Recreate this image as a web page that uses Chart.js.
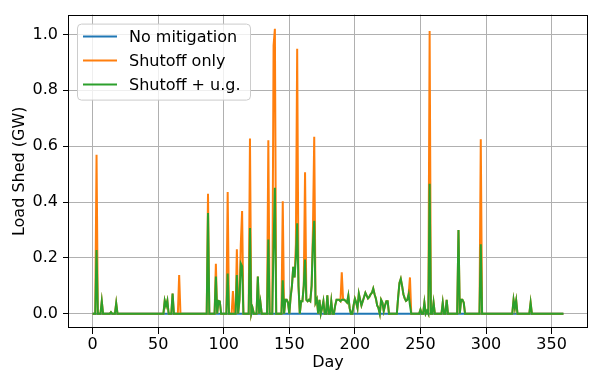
<!DOCTYPE html>
<html>
<head>
    <meta charset="UTF-8">
    <title>Load Shed</title>
    <script src="https://cdn.jsdelivr.net/npm/chart.js"></script>
    <style>
        html, body { margin: 0; padding: 0; background: #fff; }
    </style>
</head>
<body>
    <canvas id="myChart" width="595" height="375"></canvas>

    <script>
        // days 0..359, load shed in GW
        const dayCount = 360;
        const xTicks = [0, 50, 100, 150, 200, 250, 300, 350];
        const yTicks = [0, 0.2, 0.4, 0.6, 0.8, 1.0];
        const seriesNames = ['No mitigation', 'Shutoff only', 'Shutoff + u.g.'];
        const seriesColors = ['#1f77b4', '#ff7f0e', '#2ca02c'];

        // [day, GW] for days with load shed; every other day is 0
        const noMitigation = [];
        const shutoffOnly = [
            [3, 0.569], [7, 0.045], [14, 0.006], [18, 0.038],
            [55, 0.047], [56, 0.028], [57, 0.047], [61, 0.072], [66, 0.139],
            [88, 0.43], [94, 0.179], [96, 0.046], [97, 0.044],
            [103, 0.436], [107, 0.081], [110, 0.231], [112, 0.05], [113, 0.25], [114, 0.368],
            [120, 0.627], [122, 0.02], [126, 0.133], [128, 0.04],
            [134, 0.621], [138, 0.96], [139, 1.02],
            [145, 0.403], [147, 0.05], [148, 0.05], [149, 0.04],
            [151, 0.06], [152, 0.1], [153, 0.168], [154, 0.13], [155, 0.25], [156, 0.949], [157, 0.1],
            [159, 0.045], [160, 0.045], [161, 0.1], [162, 0.507], [163, 0.05], [164, 0.045], [165, 0.05],
            [166, 0.045], [167, 0.1], [168, 0.3], [169, 0.634],
            [170, 0.04], [171, 0.052], [173, 0.05], [175, 0.02], [176, 0.045], [179, 0.066], [182, 0.045],
            [185, 0.03], [186, 0.05], [187, 0.05], [188, 0.05], [189, 0.045], [190, 0.148], [191, 0.05],
            [192, 0.05], [193, 0.045], [194, 0.04], [195, 0.065], [196, 0.02],
            [199, 0.03], [200, 0.054], [201, 0.04], [202, 0.02], [203, 0.072], [204, 0.05], [205, 0.03],
            [206, 0.045], [207, 0.06], [208, 0.075], [209, 0.065], [210, 0.055], [211, 0.06], [212, 0.07],
            [213, 0.075], [214, 0.09], [215, 0.07], [216, 0.055], [217, 0.03], [218, 0.02],
            [220, 0.05], [221, 0.04], [222, 0.01], [223, 0.03], [224, 0.045], [225, 0.045],
            [233, 0.06], [234, 0.11], [235, 0.125], [236, 0.1], [237, 0.07], [238, 0.055], [239, 0.046],
            [240, 0.05], [241, 0.07], [242, 0.13],
            [250, 0.015], [253, 0.04], [255, 0.01], [257, 1.012], [260, 0.04], [267, 0.04], [270, 0.05],
            [279, 0.3], [281, 0.05], [282, 0.05], [283, 0.04],
            [296, 0.625], [321, 0.05], [322, 0.02], [323, 0.048], [334, 0.04]
        ];
        const shutoffUg = [
            [3, 0.228], [7, 0.045], [14, 0.006], [18, 0.038],
            [55, 0.047], [56, 0.028], [57, 0.047], [61, 0.072],
            [88, 0.361], [94, 0.133], [96, 0.046], [97, 0.044],
            [103, 0.144], [110, 0.139], [112, 0.05], [113, 0.18], [114, 0.17],
            [120, 0.307], [122, 0.02], [126, 0.133], [128, 0.04],
            [134, 0.266], [138, 0.25], [139, 0.451],
            [145, 0.12], [147, 0.05], [148, 0.05], [149, 0.04],
            [151, 0.06], [152, 0.1], [153, 0.168], [154, 0.13], [155, 0.2], [156, 0.324], [157, 0.1],
            [159, 0.045], [160, 0.045], [161, 0.1], [162, 0.194], [163, 0.05], [164, 0.045], [165, 0.05],
            [166, 0.045], [167, 0.1], [168, 0.25], [169, 0.333],
            [170, 0.04], [171, 0.052], [173, 0.05], [175, 0.02], [176, 0.045], [179, 0.066], [182, 0.045],
            [185, 0.03], [186, 0.05], [187, 0.05], [188, 0.05], [189, 0.045], [190, 0.05], [191, 0.05],
            [192, 0.05], [193, 0.045], [194, 0.04], [195, 0.065], [196, 0.02],
            [199, 0.03], [200, 0.054], [201, 0.04], [202, 0.02], [203, 0.072], [204, 0.05], [205, 0.03],
            [206, 0.045], [207, 0.06], [208, 0.075], [209, 0.065], [210, 0.055], [211, 0.06], [212, 0.07],
            [213, 0.075], [214, 0.09], [215, 0.07], [216, 0.055], [217, 0.03], [218, 0.02],
            [220, 0.05], [221, 0.04], [222, 0.01], [223, 0.03], [224, 0.045], [225, 0.045],
            [233, 0.06], [234, 0.11], [235, 0.125], [236, 0.1], [237, 0.07], [238, 0.055], [239, 0.046],
            [240, 0.05], [241, 0.07], [242, 0.03],
            [250, 0.015], [253, 0.04], [255, 0.01], [257, 0.465], [260, 0.04], [267, 0.04], [270, 0.05],
            [279, 0.3], [281, 0.05], [282, 0.05], [283, 0.04],
            [296, 0.249], [321, 0.05], [322, 0.02], [323, 0.048], [334, 0.04]
        ];

        // zero-filled daily series
        function dailySeries(pairs) {
            const vals = new Array(dayCount).fill(0);
            pairs.forEach(([d, v]) => { vals[d] = v; });
            return vals.map((v, d) => ({ x: d, y: v }));
        }

        const font = { family: 'DejaVu Sans', size: 16 };

        // matplotlib style frame + legend inside the axes
        const framePlugin = {
            id: 'frame',
            afterDatasetsDraw(chart) {
                const { ctx, chartArea: a } = chart;
                ctx.save();
                ctx.strokeStyle = '#000';
                ctx.lineWidth = 1;
                ctx.strokeRect(Math.round(a.left) - 0.5, Math.round(a.top) + 0.5,
                    Math.round(a.right - a.left) + 1, Math.round(a.bottom - a.top) - 1);

                const bx = a.left + 8, by = a.top + 9, bw = 173, bh = 76;
                ctx.beginPath();
                ctx.roundRect(bx + 0.5, by + 0.5, bw, bh, 4);
                ctx.fillStyle = 'rgba(255,255,255,0.8)';
                ctx.fill();
                ctx.strokeStyle = '#cccccc';
                ctx.stroke();

                ctx.font = '16px "DejaVu Sans"';
                ctx.textBaseline = 'middle';
                chart.data.datasets.forEach((ds, i) => {
                    const y = by + 13 + i * 24;
                    ctx.beginPath();
                    ctx.moveTo(bx + 6, y);
                    ctx.lineTo(bx + 40, y);
                    ctx.strokeStyle = ds.borderColor;
                    ctx.lineWidth = 2;
                    ctx.stroke();
                    ctx.fillStyle = '#000';
                    ctx.fillText(ds.label, bx + 52, y + 1);
                });
                ctx.restore();
            }
        };

        const ctx = document.getElementById('myChart').getContext('2d');
        const myChart = new Chart(ctx, {
            type: 'line',
            data: {
                datasets: [noMitigation, shutoffOnly, shutoffUg].map((s, i) => ({
                    label: seriesNames[i],
                    data: dailySeries(s),
                    borderColor: seriesColors[i],
                    backgroundColor: seriesColors[i],
                    borderWidth: 2,
                    pointRadius: 0,
                    fill: false,
                    tension: 0,
                    order: 2 - i
                }))
            },
            options: {
                responsive: false,
                animation: false,
                devicePixelRatio: 1,
                layout: { padding: { top: 5, right: 8, left: 0, bottom: 0 } },
                plugins: {
                    legend: { display: false },
                    tooltip: { enabled: false }
                },
                scales: {
                    x: {
                        type: 'linear',
                        min: -18,
                        max: 377,
                        afterBuildTicks: s => { s.ticks = xTicks.map(v => ({ value: v })); },
                        afterFit: s => { s.height = 47; },
                        ticks: { font: font, color: '#000', padding: 1, maxRotation: 0 },
                        grid: { color: '#b0b0b0', lineWidth: 1, tickLength: 6, tickColor: '#000' },
                        border: { display: false },
                        title: { display: true, text: 'Day', font: font, color: '#000', padding: { top: 0, bottom: 3 } }
                    },
                    y: {
                        min: -0.051,
                        max: 1.071,
                        afterBuildTicks: s => { s.ticks = yTicks.map(v => ({ value: v })); },
                        afterFit: s => { s.width = 69; },
                        ticks: { font: font, color: '#000', padding: 5, callback: v => v.toFixed(1) },
                        grid: { color: '#b0b0b0', lineWidth: 1, tickLength: 6, tickColor: '#000' },
                        border: { display: false },
                        title: { display: true, text: 'Load Shed (GW)', font: font, color: '#000', padding: { top: 10, bottom: 0 } }
                    }
                }
            },
            plugins: [framePlugin]
        });
    </script>
</body>
</html>
